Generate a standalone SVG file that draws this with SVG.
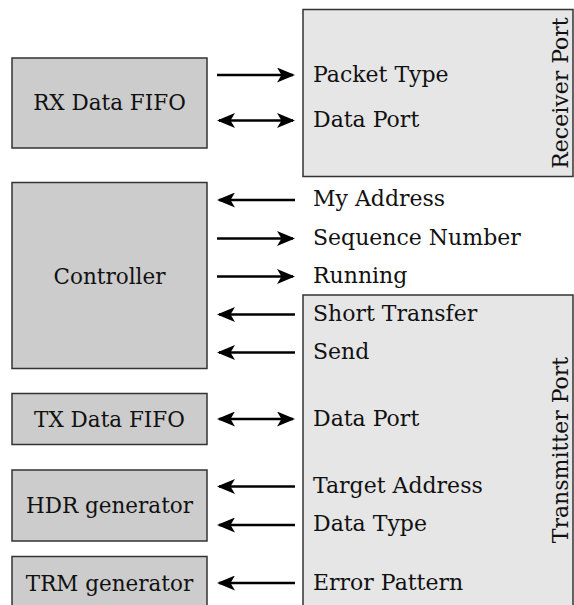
<svg xmlns="http://www.w3.org/2000/svg" width="574" height="605" viewBox="0 0 574 605">
<defs>
<marker id="ah" viewBox="0 0 18 15" refX="16" refY="7.5" markerWidth="18" markerHeight="15" markerUnits="userSpaceOnUse" orient="auto-start-reverse">
<path d="M0,0 L18,7.5 L0,15 L4.5,7.5 z" fill="#000"/>
</marker>
</defs>
<style>
.blk{fill:#cccccc;stroke:#333;stroke-width:1.5}
.port{fill:#e6e6e6;stroke:#333;stroke-width:1.5}
text{font-family:"DejaVu Serif","Liberation Serif",serif;font-size:22px;fill:#111}
.b{font-size:21.5px}
.c{text-anchor:middle}
.w line{stroke:#000;stroke-width:2.6}
</style>
<rect width="574" height="605" fill="#fff"/>
<g id="receiver-port">
<rect class="port" x="303" y="9.5" width="270" height="167"/>
<text class="c" transform="translate(568,93) rotate(-90)">Receiver Port</text>
<text x="313" y="82">Packet Type</text>
<text x="313" y="127">Data Port</text>
</g>
<g id="transmitter-port">
<rect class="port" x="303" y="295" width="270" height="320"/>
<text class="c" transform="translate(568,450) rotate(-90)">Transmitter Port</text>
<text x="313" y="321">Short Transfer</text>
<text x="313" y="359">Send</text>
<text x="313" y="426">Data Port</text>
<text x="313" y="493">Target Address</text>
<text x="313" y="531">Data Type</text>
<text x="313" y="590">Error Pattern</text>
</g>
<g id="signals">
<text x="313" y="206">My Address</text>
<text x="313" y="245">Sequence Number</text>
<text x="313" y="283">Running</text>
</g>
<g id="rx-fifo">
<rect class="blk" x="12" y="58" width="195" height="90"/>
<text class="c b" x="109.5" y="110">RX Data FIFO</text>
</g>
<g id="controller">
<rect class="blk" x="12" y="182.5" width="195" height="186"/>
<text class="c b" x="109.5" y="284">Controller</text>
</g>
<g id="tx-fifo">
<rect class="blk" x="12" y="393.5" width="195" height="51"/>
<text class="c b" x="109.5" y="427">TX Data FIFO</text>
</g>
<g id="hdr-gen">
<rect class="blk" x="12" y="470" width="195" height="71"/>
<text class="c b" x="109.5" y="513">HDR generator</text>
</g>
<g id="trm-gen">
<rect class="blk" x="12" y="556.5" width="195" height="60"/>
<text class="c b" x="109.5" y="591">TRM generator</text>
</g>
<g id="connectors" class="w">
<line x1="217" y1="75" x2="293" y2="75" marker-end="url(#ah)"/>
<line x1="219" y1="120.5" x2="293" y2="120.5" marker-start="url(#ah)" marker-end="url(#ah)"/>
<line x1="295" y1="200" x2="219" y2="200" marker-end="url(#ah)"/>
<line x1="217" y1="238.5" x2="293" y2="238.5" marker-end="url(#ah)"/>
<line x1="217" y1="276.5" x2="293" y2="276.5" marker-end="url(#ah)"/>
<line x1="295" y1="314.5" x2="219" y2="314.5" marker-end="url(#ah)"/>
<line x1="295" y1="352.5" x2="219" y2="352.5" marker-end="url(#ah)"/>
<line x1="219" y1="419" x2="293" y2="419" marker-start="url(#ah)" marker-end="url(#ah)"/>
<line x1="295" y1="486.5" x2="219" y2="486.5" marker-end="url(#ah)"/>
<line x1="295" y1="525" x2="219" y2="525" marker-end="url(#ah)"/>
<line x1="295" y1="583" x2="219" y2="583" marker-end="url(#ah)"/>
</g>
</svg>
